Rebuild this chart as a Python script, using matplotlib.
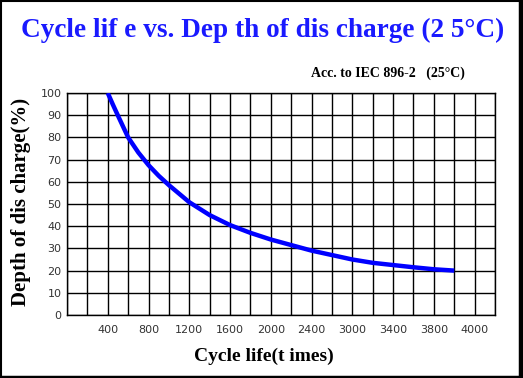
import matplotlib
matplotlib.use("Agg")
import matplotlib.pyplot as plt
from matplotlib.patches import Rectangle

# Data
cycles = [400, 450, 500, 600, 700, 800, 900, 1000, 1200, 1400, 1600, 1800, 2000,
          2200, 2400, 2600, 2800, 3000, 3200, 3400, 3600, 3800]
dod = [100, 94.8, 89.8, 80, 73.2, 67.5, 62.7, 58.5, 50.8, 45, 40.5, 37, 34,
       31.5, 29, 27, 25, 23.5, 22.5, 21.5, 20.6, 20]
xtick_pos = [400, 800, 1200, 1600, 2000, 2400, 2800, 3200, 3600, 4000]
xtick_labels = ["400", "800", "1200", "1600", "2000", "2400", "3000", "3400", "3800", "4000"]
ytick_pos = [0, 10, 20, 30, 40, 50, 60, 70, 80, 90, 100]

title = "Cycle lif e vs. Dep th of dis charge (2 5°C)"
subtitle = "Acc. to IEC 896-2   (25°C)"
xlabel = "Cycle life(t imes)"
ylabel = "Depth of dis charge(%)"

W, H = 523, 378
fig = plt.figure(figsize=(W / 100, H / 100), dpi=100)
fig.patch.set_facecolor("white")

ax = fig.add_axes([67 / W, 1 - 315 / H, (495 - 67) / W, (315 - 93) / H])
ax.set_xlim(0, 4200)
ax.set_ylim(0, 100)
ax.set_xticks(xtick_pos)
ax.set_xticklabels(xtick_labels)
ax.set_xticks(range(0, 4201, 200), minor=True)
ax.set_yticks(ytick_pos)
ax.set_yticklabels([str(v) for v in ytick_pos])
ax.grid(True, which="both", color="black", linewidth=1.0)
ax.tick_params(which="both", length=0, pad=4, labelsize=8, labelcolor="#333333")
ax.tick_params(axis="x", pad=7)
for s in ax.spines.values():
    s.set_color("black")
    s.set_linewidth(1.0)
ax.set_axisbelow(True)

ax.plot(cycles, dod, color="#0000ff", linewidth=3.2, solid_capstyle="butt", zorder=3)

serif = ["Liberation Serif", "DejaVu Serif"]
fig.text(263 / W, 1 - 30 / H, title, ha="center", va="center", color="#1a1aff",
         fontsize=19.6, fontweight="bold", family=serif)
fig.text(388 / W, 1 - 73 / H, subtitle, ha="center", va="center", color="black",
         fontsize=10, fontweight="bold", family=serif)
fig.text(264 / W, 1 - 356 / H, xlabel, ha="center", va="center", color="black",
         fontsize=14, fontweight="bold", family=serif)
fig.text(21 / W, 1 - 202 / H, ylabel, ha="center", va="center", color="black",
         fontsize=15, fontweight="bold", family=serif, rotation=90)

# outer frame
fig.patches.append(Rectangle((0.5 / W, 1.5 / H), (W - 4) / W, (H - 2.5) / H,
                             transform=fig.transFigure, fill=False,
                             edgecolor="black", linewidth=1.5))
fig.patches.append(Rectangle(((W - 4) / W, 0), 4 / W, 1, transform=fig.transFigure,
                             color="black"))
fig.patches.append(Rectangle((0, 0), 1, 2 / H, transform=fig.transFigure,
                             color="black"))

fig.savefig("out.png", dpi=100)
